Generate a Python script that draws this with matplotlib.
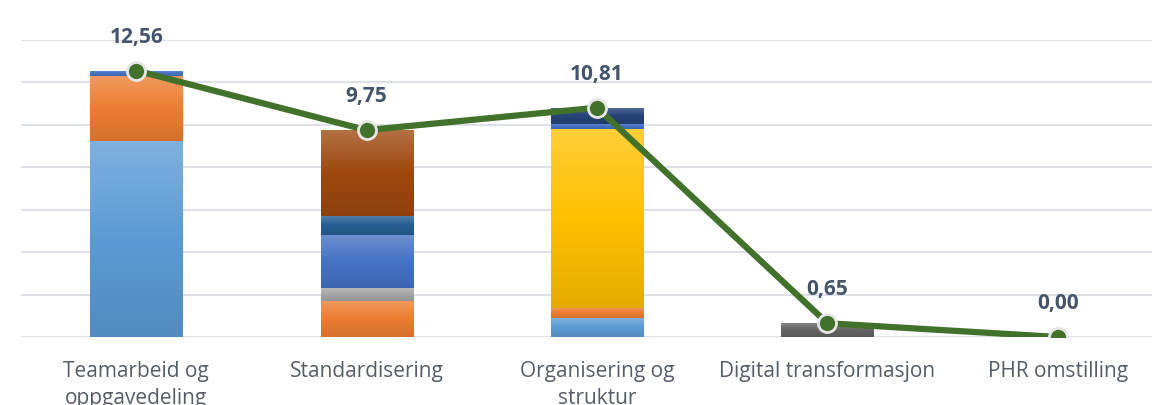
import numpy as np
import matplotlib.pyplot as plt
from matplotlib.colors import LinearSegmentedColormap, to_rgb

categories = ["Teamarbeid og\noppgavedeling", "Standardisering", "Organisering og\nstruktur",
              "Digital transformasjon", "PHR omstilling"]
line_values = [12.56, 9.75, 10.81, 0.65, 0.00]
line_labels = ["12,56", "9,75", "10,81", "0,65", "0,00"]

# stacked segments per category, bottom to top
seg_teamarbeid = [9.25, 3.03, 0.28]
seg_standard = [1.70, 0.61, 2.51, 0.90, 4.03]
seg_organisering = [0.88, 0.48, 8.45, 0.24, 0.76]
seg_digital = [0.65]
seg_phr = []

segments = [seg_teamarbeid, seg_standard, seg_organisering, seg_digital, seg_phr]
seg_colors = [
    ["#5B9BD5", "#ED7D31", "#4472C4"],
    ["#ED7D31", "#A5A5A5", "#4472C4", "#255E91", "#9E480E"],
    ["#5B9BD5", "#ED7D31", "#FFC000", "#4472C4", "#264478"],
    ["#636363"],
    [],
]


def gradient_cmap(color):
    c = np.array(to_rgb(color))
    top = c + (1 - c) * 0.22
    bottom = c * 0.9
    return LinearSegmentedColormap.from_list("g", [bottom, c, top])


fig = plt.figure(figsize=(11.52, 4.05), dpi=100)
ax = fig.add_axes([21 / 1152, 68 / 405, 1152 / 1152, 297 / 405])

x = np.arange(len(categories))
width = 0.40
grad = np.linspace(1, 0, 100).reshape(-1, 1)

for i, (vals, cols) in enumerate(zip(segments, seg_colors)):
    bottom = 0
    for v, col in zip(vals, cols):
        bar = ax.bar(x[i], v, width, bottom=bottom, color=col, zorder=2, linewidth=0)[0]
        img = ax.imshow(grad, extent=(bar.get_x(), bar.get_x() + bar.get_width(),
                                      bottom, bottom + v),
                        cmap=gradient_cmap(col), aspect="auto", zorder=2.5)
        img.set_clip_path(bar)
        bottom += v

ax.plot(x, line_values, color="#41712B", lw=4.5, zorder=4, solid_capstyle="round",
        marker="o", markersize=13, markerfacecolor="#41712B",
        markeredgecolor="#E6E6E6", markeredgewidth=2)

for xi, v, lab in zip(x, line_values, line_labels):
    ax.annotate(lab, (xi, v), xytext=(0, 24), textcoords="offset points",
                ha="center", va="center", fontsize=15, fontweight="bold",
                color="#44546A", family="Open Sans", zorder=5)

ax.set_xlim(-0.5, 4.5)
ax.set_ylim(0, 14)
ax.set_yticks(np.arange(0, 15, 2))
ax.yaxis.grid(True, color="#DDE1E7", lw=1.5, zorder=0)
ax.set_axisbelow(True)
ax.tick_params(axis="y", left=False, labelleft=False)
ax.tick_params(axis="x", length=0, pad=17)
ax.set_xticks(x)
ax.set_xticklabels(categories, fontsize=15, color="#555D69", family="Open Sans",
                   linespacing=1.4)
for s in ax.spines.values():
    s.set_visible(False)

fig.savefig("out.png", dpi=100)
